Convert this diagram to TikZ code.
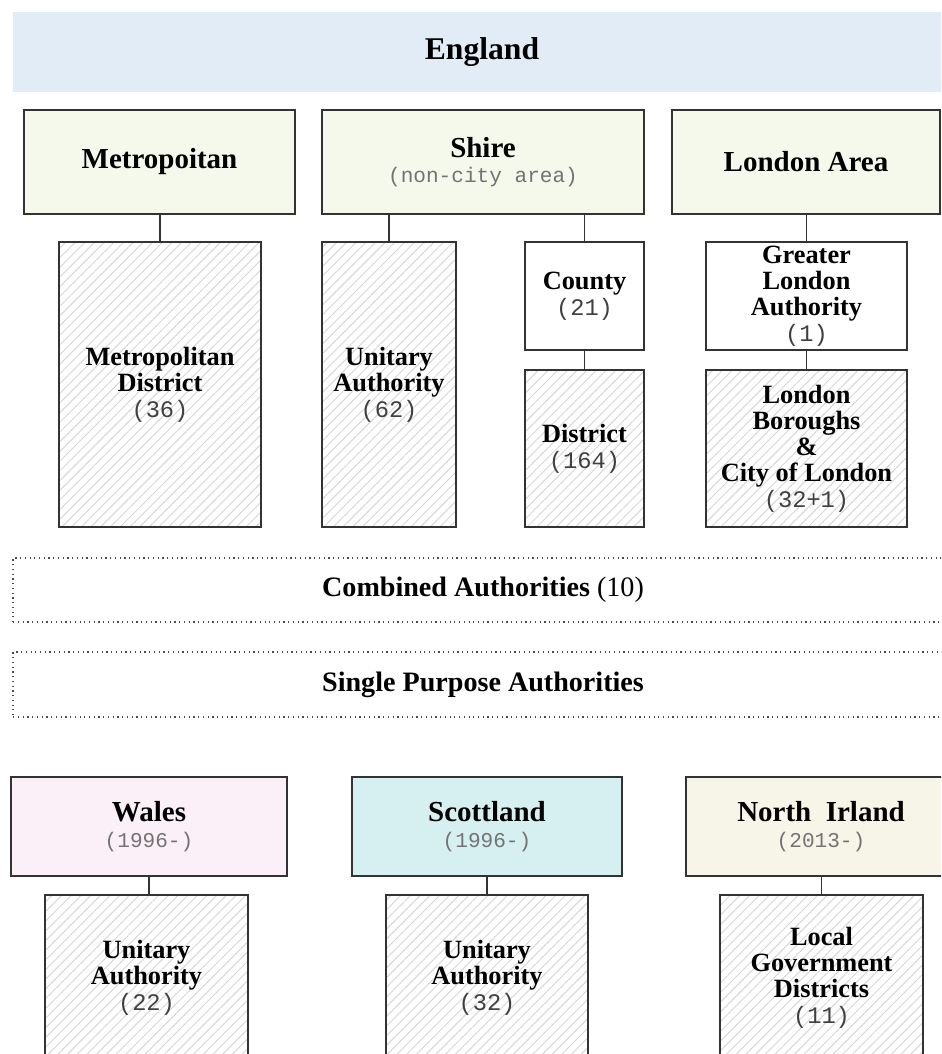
\documentclass[tikz,border=0pt]{standalone}
\usepackage{fontspec}
\setmainfont{Liberation Serif}
\newfontfamily\chiffres{Liberation Mono}
\usetikzlibrary{patterns.meta}
\definecolor{ccbleu}{RGB}{225,236,247}
\definecolor{ccvert}{RGB}{245,249,236}
\definecolor{ccrose}{RGB}{252,240,248}
\definecolor{cccyan}{RGB}{214,239,241}
\definecolor{ccbeige}{RGB}{247,244,232}
\definecolor{cctrait}{RGB}{51,51,51}
\newcommand{\nb}[1]{{\chiffres\mdseries\fontsize{13.5}{15}\selectfont\color{black!75}#1}}
\newcommand{\sous}[1]{{\chiffres\mdseries\fontsize{12}{14}\selectfont\color{black!55}#1}}

\begin{document}
\begin{tikzpicture}[x=0.02cm, y=-0.02cm]

  % Style des boites
  \tikzstyle{titre} = [draw=cctrait, line width=0.9pt, inner sep=0pt, align=center, font=\bfseries\fontsize{16.5}{14.5}\selectfont]
  \tikzstyle{boite} = [draw=cctrait, line width=0.9pt, inner sep=0pt, align=center, font=\bfseries\fontsize{15}{14.8}\selectfont]
  \tikzstyle{hachure} = [boite, pattern={Lines[angle=45, distance=3.9pt, line width=0.55pt]}, pattern color=black!16]
  \tikzstyle{pointille} = [draw=black!70, dotted, line width=0.7pt, inner sep=0pt, minimum width=18.8cm, font=\bfseries\fontsize{16}{16}\selectfont]
  \tikzstyle{lien} = [draw=cctrait, line width=1pt]

  \path[use as bounding box, clip] (0,0) rectangle (941,1054);

  % England
  \draw (482,52) node[fill=ccbleu, minimum width=18.76cm, minimum height=1.6cm, font=\bfseries\fontsize{18}{18}\selectfont] (england) {England};

  \draw (159.5,162) node[titre, fill=ccvert, minimum width=5.42cm, minimum height=2.08cm] (metro) {Metropoitan};
  \draw (483,162) node[titre, fill=ccvert, minimum width=6.44cm, minimum height=2.08cm] (shire) {Shire\\\sous{(non-city area)}};
  \draw (806,162) node[titre, fill=ccvert, minimum width=5.36cm, minimum height=2.08cm] (london) {London Area};

  \draw (160,384.5) node[hachure, minimum width=4.04cm, minimum height=5.7cm] (metdist) {Metropolitan\\District\\\nb{(36)}};
  \draw (389,384.5) node[hachure, minimum width=2.68cm, minimum height=5.7cm] (unitaire) {Unitary\\Authority\\\nb{(62)}};
  \draw (584.5,296) node[boite, minimum width=2.38cm, minimum height=2.16cm] (comte) {County\\\nb{(21)}};
  \draw (584.5,448.5) node[hachure, minimum width=2.38cm, minimum height=3.14cm] (district) {District\\\nb{(164)}};
  \draw (806.5,296) node[boite, minimum width=4.02cm, minimum height=2.16cm] (gla) {Greater\\London\\Authority\\\nb{(1)}};
  \draw (806.5,448.5) node[hachure, minimum width=4.02cm, minimum height=3.14cm] (boroughs) {London\\Boroughs\\\&\\City of London\\\nb{(32+1)}};

  % Liens England
  \draw[lien] (metdist.north) -- (metdist.north |- metro.south);
  \draw[lien] (unitaire.north) -- (unitaire.north |- shire.south);
  \draw[lien] (comte.north) -- (comte.north |- shire.south);
  \draw[lien] (district.north) -- (comte.south);
  \draw[lien] (gla.north) -- (gla.north |- london.south);
  \draw[lien] (boroughs.north) -- (gla.south);

  % Autorités
  \draw (483,590) node[pointille, minimum height=1.28cm] (combined) {Combined Authorities {\mdseries (10)}};
  \draw (483,684.5) node[pointille, minimum height=1.3cm] (single) {Single Purpose Authorities};

  % Wales, Scottland, North Irland
  \draw (149,826.5) node[titre, fill=ccrose, minimum width=5.52cm, minimum height=1.98cm] (wales) {Wales\\\sous{(1996-)}};
  \draw (487,826.5) node[titre, fill=cccyan, minimum width=5.4cm, minimum height=1.98cm] (ecosse) {Scottland\\\sous{(1996-)}};
  \draw (821,826.5) node[titre, fill=ccbeige, minimum width=5.4cm, minimum height=1.98cm] (irlande) {North~~Irland\\\sous{(2013-)}};

  \draw (146.5,977.5) node[hachure, minimum width=4.06cm, minimum height=3.3cm] (walesua) {Unitary\\Authority\\\nb{(22)}};
  \draw (487,977.5) node[hachure, minimum width=4.04cm, minimum height=3.3cm] (ecosseua) {Unitary\\Authority\\\nb{(32)}};
  \draw (821.5,977.5) node[hachure, minimum width=4.06cm, minimum height=3.3cm] (irlandeua) {Local\\Government\\Districts\\\nb{(11)}};

  \draw[lien] (wales.south) -- (wales.south |- walesua.north);
  \draw[lien] (ecosse.south) -- (ecosse.south |- ecosseua.north);
  \draw[lien] (irlandeua.north) -- (irlandeua.north |- irlande.south);

\end{tikzpicture}
\end{document}
